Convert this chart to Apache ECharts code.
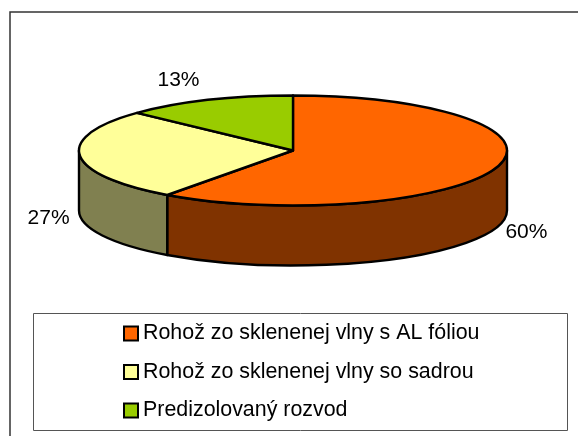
<!DOCTYPE html>
<html><head><meta charset="utf-8">
<style>html,body{margin:0;padding:0;background:#fff}#c{width:578px;height:436px}</style>
<script src="https://cdn.jsdelivr.net/npm/echarts@6/dist/echarts.min.js"></script>
</head><body><div id="c"></div>
<script>
const categories = ['Rohož zo sklenenej vlny s AL fóliou','Rohož zo sklenenej vlny so sadrou','Predizolovaný rozvod'];
const shares = [60, 27, 13];
const topColors = ['#FF6600','#FFFF99','#99CC00'];
const sideColors = ['#803300','#808050','#4D6600'];

const CX = 293, CY = 150.5, RX = 214, RY = 55, DEPTH = 60, LABEL_K = 1.147;
const total = shares.reduce((a,b)=>a+b,0);
const pt = (deg, dy=0) => {
  const r = deg*Math.PI/180;
  return [CX + RX*Math.sin(r), CY - RY*Math.cos(r) + dy];
};
const chart = echarts.init(document.getElementById('c'), null, {renderer:'canvas'});

function makeSeries(name, i){
  return {
    type:'custom', name, coordinateSystem:'none',
    itemStyle:{color:topColors[i]},
    data:[shares[i]],
    silent:true,
    renderItem(params, api){
      const before = shares.slice(0,i).reduce((a,b)=>a+b,0);
      const a0 = before/total*360, a1 = (before+api.value(0))/total*360;
      const children = [];
      const s0 = Math.max(a0,90), s1 = Math.min(a1,270);
      if (s1 > s0){
        const p0=pt(s0), p1=pt(s1), q0=pt(s0,DEPTH), q1=pt(s1,DEPTH);
        children.push({type:'path', z2:1,
          shape:{pathData:`M${p0[0]} ${p0[1]}A${RX} ${RY} 0 0 1 ${p1[0]} ${p1[1]}L${q1[0]} ${q1[1]}A${RX} ${RY} 0 0 0 ${q0[0]} ${q0[1]}Z`},
          style:{fill:sideColors[i],stroke:'#000',lineWidth:2.4,lineJoin:'round'}});
      }
      const p0=pt(a0), p1=pt(a1), large=(a1-a0)>180?1:0;
      children.push({type:'path', z2:2,
        shape:{pathData:`M${CX} ${CY}L${p0[0]} ${p0[1]}A${RX} ${RY} 0 ${large} 1 ${p1[0]} ${p1[1]}Z`},
        style:{fill:topColors[i],stroke:'#000',lineWidth:2.4,lineJoin:'round'}});
      const mid=(a0+a1)/2, r=mid*Math.PI/180, front=Math.cos(r)<0;
      children.push({type:'text', z2:3,
        x:CX+LABEL_K*RX*Math.sin(r)+(front?0:-17),
        y:CY-LABEL_K*RY*Math.cos(r)+(front?DEPTH+2:-12),
        style:{text:Math.round(api.value(0)/total*100)+'%',fill:'#000',
          font:'21px "Liberation Sans", Arial, sans-serif',align:'center',verticalAlign:'middle'}});
      return {type:'group',children};
    }
  };
}

chart.setOption({
  animation:false,
  backgroundColor:'#fff',
  graphic:[
    {type:'rect',z:-1,shape:{x:10,y:12,width:620,height:480},style:{fill:'#fff',stroke:'#333',lineWidth:1.5}},
    {type:'rect',z:-1,shape:{x:33.5,y:313.5,width:534,height:117},style:{fill:'#fff',stroke:'#555',lineWidth:1}}
  ],
  legend:{
    orient:'vertical', left:123, top:323, height:112, padding:0, icon:'rect', itemWidth:14, itemHeight:14, itemGap:17.5,
    itemStyle:{borderColor:'#000',borderWidth:2},
    textStyle:{color:'#000',fontFamily:'"Liberation Sans", Arial, sans-serif',fontSize:21.4},
    selectedMode:false,
    data:categories
  },
  series:categories.map(makeSeries)
});
</script></body></html>
